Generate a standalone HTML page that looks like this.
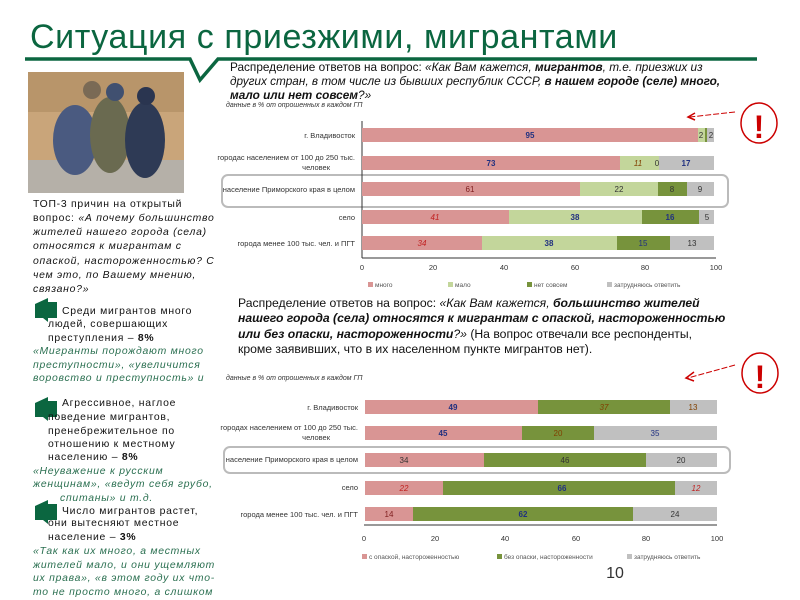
<!DOCTYPE html>
<html><head><meta charset="utf-8">
<style>
body{margin:0;width:800px;height:600px;overflow:hidden;background:#fff;font-family:"Liberation Sans","DejaVu Sans",sans-serif;position:relative}
.a{position:absolute;white-space:nowrap}
.title{left:30px;top:18px;font-size:34px;color:#0b6640;letter-spacing:0.6px;white-space:nowrap}
.q{font-size:11.8px;line-height:14px;color:#111}
.l{position:absolute;white-space:nowrap;font-size:10.4px;line-height:14px;color:#111;letter-spacing:0.75px}
.g{color:#2a6f50;font-style:italic}
</style></head><body>
<div class="a title">Ситуация с приезжими, мигрантами</div>
<svg class="a" style="left:0;top:0" width="800" height="600">
<polyline points="25,59 190,59 200,80 218,59 757,59" fill="none" stroke="#0b6640" stroke-width="3.5"/>
<rect x="28" y="72" width="156" height="121" fill="#c9a57a"/>
<rect x="28" y="72" width="156" height="40" fill="#b8956a"/>
<rect x="28" y="160" width="156" height="33" fill="#b5b0a8"/>
<ellipse cx="75" cy="140" rx="22" ry="35" fill="#4a5a80"/>
<ellipse cx="110" cy="135" rx="20" ry="38" fill="#6a6a50"/>
<ellipse cx="145" cy="140" rx="20" ry="38" fill="#2e3a55"/>
<circle cx="92" cy="90" r="9" fill="#7a6a55"/><circle cx="115" cy="92" r="9" fill="#405070"/><circle cx="146" cy="96" r="9" fill="#2a3550"/>
<g fill="#0b6640">
<polygon points="35,304 48,298 48,302 57,302 57,318 48,318 48,322 43,318 35,318"/>
<polygon points="35,403 48,397 48,401 57,401 57,417 48,417 48,421 43,417 35,417"/>
<polygon points="35,506 48,500 48,504 57,504 57,520 48,520 48,524 43,520 35,520"/>
</g>
<rect x="222" y="175" width="506" height="32" rx="6" fill="none" stroke="#bbb" stroke-width="2"/>
<rect x="224" y="447" width="506" height="26" rx="6" fill="none" stroke="#bbb" stroke-width="2"/>
<g fill="none" stroke="#c00" stroke-width="1.5">
<ellipse cx="759" cy="123" rx="18" ry="20"/><ellipse cx="760" cy="373" rx="18" ry="20"/>
<path d="M735,112 L690,117" stroke-dasharray="6,2" stroke-width="1"/><path d="M695,113 L688,117 L695,120"/>
<path d="M735,365 L688,378" stroke-dasharray="6,2" stroke-width="1"/><path d="M694,372 L686,378 L694,381"/>
</g>
<text x="759" y="138" font-size="32" font-weight="bold" fill="#c00" text-anchor="middle" font-family="Liberation Sans">!</text>
<text x="760" y="388" font-size="32" font-weight="bold" fill="#c00" text-anchor="middle" font-family="Liberation Sans">!</text>
<g font-family="Liberation Sans,sans-serif" font-size="7.5" fill="#333">
<text x="226" y="107" font-style="italic" font-size="7">данные в % от опрошенных в каждом ГП</text>
<text x="226" y="380" font-style="italic" font-size="7">данные в % от опрошенных в каждом ГП</text>
<line x1="362" y1="121" x2="362" y2="258" stroke="#333"/>
<line x1="362" y1="258" x2="716" y2="258" stroke="#333"/>
<g text-anchor="end">
<text x="355" y="138">г. Владивосток</text>
<text x="355" y="160">городас населением от 100 до 250 тыс.</text><text x="330" y="170">человек</text>
<text x="355" y="192">население Приморского края в целом</text>
<text x="355" y="220">село</text>
<text x="355" y="246">города менее 100 тыс. чел. и ПГТ</text>
</g>
<g text-anchor="middle"><text x="362" y="270">0</text><text x="433" y="270">20</text><text x="504" y="270">40</text><text x="575" y="270">60</text><text x="645" y="270">80</text><text x="716" y="270">100</text></g>
<g>
<rect x="362" y="128" width="336" height="14" fill="#d99594"/><rect x="698" y="128" width="7" height="14" fill="#c3d69b"/><rect x="705" y="128" width="2" height="14" fill="#77933c"/><rect x="707" y="128" width="7" height="14" fill="#c0c0c0"/>
<rect x="362" y="156" width="258" height="14" fill="#d99594"/><rect x="620" y="156" width="39" height="14" fill="#c3d69b"/><rect x="659" y="156" width="55" height="14" fill="#c0c0c0"/>
<rect x="362" y="182" width="218" height="14" fill="#d99594"/><rect x="580" y="182" width="78" height="14" fill="#c3d69b"/><rect x="658" y="182" width="29" height="14" fill="#77933c"/><rect x="687" y="182" width="27" height="14" fill="#c0c0c0"/>
<rect x="362" y="210" width="147" height="14" fill="#d99594"/><rect x="509" y="210" width="133" height="14" fill="#c3d69b"/><rect x="642" y="210" width="57" height="14" fill="#77933c"/><rect x="699" y="210" width="15" height="14" fill="#c0c0c0"/>
<rect x="362" y="236" width="120" height="14" fill="#d99594"/><rect x="482" y="236" width="135" height="14" fill="#c3d69b"/><rect x="617" y="236" width="53" height="14" fill="#77933c"/><rect x="670" y="236" width="44" height="14" fill="#c0c0c0"/>
</g>
<g text-anchor="middle" font-size="8">
<text x="530" y="138" fill="#203080" font-weight="bold">95</text><text x="701" y="138">2</text><text x="711" y="138">2</text>
<text x="491" y="166" fill="#203080" font-weight="bold">73</text><text x="638" y="166" fill="#804000" font-style="italic">11</text><text x="657" y="166">0</text><text x="686" y="166" fill="#203080" font-weight="bold">17</text>
<text x="470" y="192" fill="#802020">61</text><text x="619" y="192">22</text><text x="672" y="192">8</text><text x="700" y="192">9</text>
<text x="435" y="220" fill="#c02020" font-style="italic">41</text><text x="575" y="220" fill="#203080" font-weight="bold">38</text><text x="670" y="220" fill="#203080" font-weight="bold">16</text><text x="707" y="220">5</text>
<text x="422" y="246" fill="#c02020" font-style="italic">34</text><text x="549" y="246" fill="#203080" font-weight="bold">38</text><text x="643" y="246" fill="#203080">15</text><text x="692" y="246">13</text>
</g>
<g font-size="6.5" fill="#555">
<rect x="368" y="282" width="5" height="5" fill="#d99594"/><text x="375" y="287">много</text>
<rect x="448" y="282" width="5" height="5" fill="#c3d69b"/><text x="455" y="287">мало</text>
<rect x="527" y="282" width="5" height="5" fill="#77933c"/><text x="534" y="287">нет совсем</text>
<rect x="607" y="282" width="5" height="5" fill="#c0c0c0"/><text x="614" y="287">затрудняюсь ответить</text>
</g>
<line x1="364" y1="525" x2="717" y2="525" stroke="#333"/>
<g text-anchor="end">
<text x="358" y="410">г. Владивосток</text>
<text x="358" y="430">городах населением от 100 до 250 тыс.</text><text x="330" y="440">человек</text>
<text x="358" y="462">население Приморского края в целом</text>
<text x="358" y="490">село</text>
<text x="358" y="517">города менее 100 тыс. чел. и ПГТ</text>
</g>
<g text-anchor="middle"><text x="364" y="541">0</text><text x="435" y="541">20</text><text x="505" y="541">40</text><text x="576" y="541">60</text><text x="646" y="541">80</text><text x="717" y="541">100</text></g>
<rect x="365" y="400" width="173" height="14" fill="#d99594"/><rect x="538" y="400" width="132" height="14" fill="#77933c"/><rect x="670" y="400" width="47" height="14" fill="#c0c0c0"/>
<rect x="365" y="426" width="157" height="14" fill="#d99594"/><rect x="522" y="426" width="72" height="14" fill="#77933c"/><rect x="594" y="426" width="123" height="14" fill="#c0c0c0"/>
<rect x="365" y="453" width="119" height="14" fill="#d99594"/><rect x="484" y="453" width="162" height="14" fill="#77933c"/><rect x="646" y="453" width="71" height="14" fill="#c0c0c0"/>
<rect x="365" y="481" width="78" height="14" fill="#d99594"/><rect x="443" y="481" width="232" height="14" fill="#77933c"/><rect x="675" y="481" width="42" height="14" fill="#c0c0c0"/>
<rect x="365" y="507" width="48" height="14" fill="#d99594"/><rect x="413" y="507" width="220" height="14" fill="#77933c"/><rect x="633" y="507" width="84" height="14" fill="#c0c0c0"/>
<g text-anchor="middle" font-size="8">
<text x="453" y="410" fill="#203080" font-weight="bold">49</text><text x="604" y="410" fill="#804000" font-style="italic">37</text><text x="693" y="410" fill="#804000">13</text>
<text x="443" y="436" fill="#203080" font-weight="bold">45</text><text x="558" y="436" fill="#804000">20</text><text x="655" y="436" fill="#203080">35</text>
<text x="404" y="463">34</text><text x="565" y="463">46</text><text x="681" y="463">20</text>
<text x="404" y="491" fill="#c02020" font-style="italic">22</text><text x="562" y="491" fill="#203080" font-weight="bold">66</text><text x="696" y="491" fill="#c02020" font-style="italic">12</text>
<text x="389" y="517" fill="#802020">14</text><text x="523" y="517" fill="#203080" font-weight="bold">62</text><text x="675" y="517">24</text>
</g>
<g font-size="6.5" fill="#555">
<rect x="362" y="554" width="5" height="5" fill="#d99594"/><text x="369" y="559">с опаской, настороженностью</text>
<rect x="497" y="554" width="5" height="5" fill="#77933c"/><text x="504" y="559">без опаски, настороженности</text>
<rect x="627" y="554" width="5" height="5" fill="#c0c0c0"/><text x="634" y="559">затрудняюсь ответить</text>
</g>
</g>
<text x="615" y="578" font-size="16" fill="#333" text-anchor="middle" font-family="Liberation Sans">10</text>
</svg>
<div class="a q" style="left:230px;top:60px">Распределение ответов на вопрос: <i>«Как Вам кажется, <b>мигрантов</b>, т.е. приезжих из</i><br><i>других стран, в том числе из бывших республик СССР, <b>в нашем городе (селе) много,</b></i><br><i><b>мало или нет совсем</b>?»</i></div>
<div class="a q" style="left:238px;top:296px;font-size:12.2px;line-height:15.3px">Распределение ответов на вопрос: <i>«Как Вам кажется, <b>большинство жителей</b></i><br><i><b>нашего города (села) относятся к мигрантам с опаской, настороженностью</b></i><br><i><b>или без опаски, настороженности</b>?»</i> (На вопрос отвечали все респонденты,<br>кроме заявивших, что в их населенном пункте мигрантов нет).</div>
<div class="l" style="left:33px;top:198px">ТОП-3 причин на открытый</div>
<div class="l" style="left:33px;top:212px">вопрос: <i>«А почему большинство</i></div>
<div class="l" style="left:33px;top:226px"><i>жителей нашего города (села)</i></div>
<div class="l" style="left:33px;top:240px"><i>относятся к мигрантам с</i></div>
<div class="l" style="left:33px;top:255px"><i>опаской, настороженностью? С</i></div>
<div class="l" style="left:33px;top:269px"><i>чем это, по Вашему мнению,</i></div>
<div class="l" style="left:33px;top:277px;top:277px"></div>
<div class="l" style="left:33px;top:283px"><i>связано?»</i></div>
<div class="l" style="left:62px;top:305px">Среди мигрантов много</div>
<div class="l" style="left:48px;top:318px">людей, совершающих</div>
<div class="l" style="left:48px;top:332px">преступления – <b>8%</b></div>
<div class="l g" style="left:33px;top:345px">«Мигранты порождают много</div>
<div class="l g" style="left:33px;top:359px">преступности», «увеличится</div>
<div class="l g" style="left:33px;top:372px">воровство и преступность» и</div>
<div class="l" style="left:62px;top:397px">Агрессивное, наглое</div>
<div class="l" style="left:48px;top:411px">поведение мигрантов,</div>
<div class="l" style="left:48px;top:425px">пренебрежительное по</div>
<div class="l" style="left:48px;top:438px">отношению к местному</div>
<div class="l" style="left:48px;top:451px">населению – <b>8%</b></div>
<div class="l g" style="left:33px;top:465px">«Неуважение к русским</div>
<div class="l g" style="left:33px;top:478px">женщинам», «ведут себя грубо,</div>
<div class="l g" style="left:60px;top:492px">спитаны» и т.д.</div>
<div class="l" style="left:62px;top:505px">Число мигрантов растет,</div>
<div class="l" style="left:48px;top:517px">они вытесняют местное</div>
<div class="l" style="left:48px;top:531px">население – <b>3%</b></div>
<div class="l g" style="left:33px;top:545px">«Так как их много, а местных</div>
<div class="l g" style="left:33px;top:559px">жителей мало, и они ущемляют</div>
<div class="l g" style="left:33px;top:572px">их права», «в этом году их что-</div>
<div class="l g" style="left:33px;top:586px">то не просто много, а слишком</div>
</body></html>
